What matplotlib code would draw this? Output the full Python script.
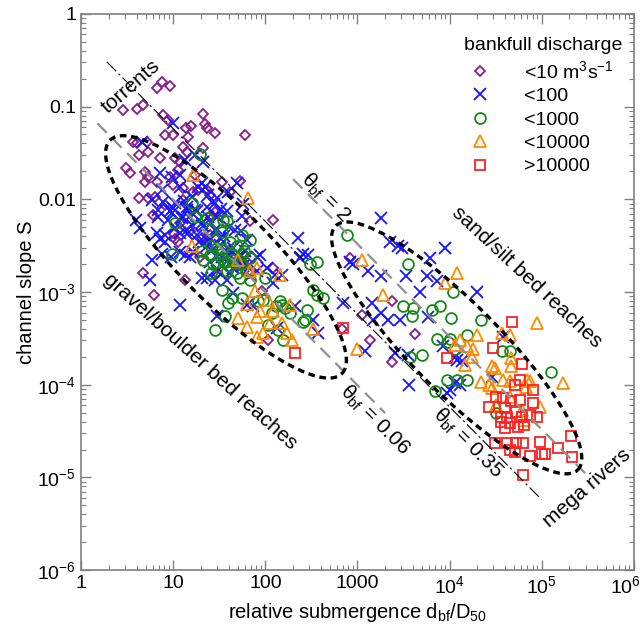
import numpy as np
import matplotlib.pyplot as plt
from matplotlib.ticker import FixedLocator, LogLocator, NullFormatter
from matplotlib.transforms import ScaledTranslation

plt.rcParams['font.family'] = ['Liberation Sans', 'DejaVu Sans']
plt.rcParams['mathtext.default'] = 'regular'

# points: (relative submergence d_bf/D50, channel slope S)
q10_pts = [(7.5, 0.185), (6.7, 0.159), (9.2, 0.166), (2.85, 0.092), (4.0, 0.094), (4.7, 0.104),
           (7.7, 0.081), (8.8, 0.072), (21, 0.083), (13.8, 0.059), (15.6, 0.062), (22, 0.065),
           (23, 0.059), (28.4, 0.052), (60, 0.0495), (8.1, 0.0495), (10, 0.0495), (14.5, 0.047),
           (3.7, 0.042), (4.0, 0.040), (5.2, 0.042), (12.8, 0.037), (14.1, 0.032), (21, 0.036),
           (4.3, 0.030), (5.3, 0.032), (7.2, 0.028), (10.5, 0.028), (11.9, 0.0255), (34, 0.0155),
           (53, 0.0158), (3.1, 0.0218), (3.4, 0.0193), (4.9, 0.0197), (5.3, 0.0176), (4.9, 0.0155),
           (6.7, 0.0155), (9.2, 0.0176), (10, 0.0143), (4.3, 0.0104), (5.3, 0.0104), (25, 0.0111),
           (121, 0.006), (68, 0.0058), (4.7, 0.0016), (6.2, 0.00093), (19.5, 0.0024), (22.5, 0.0034),
           (66, 0.0016), (92, 0.00103), (30, 0.0016), (11.2, 0.0207), (17.2, 0.0183), (18.5, 0.0126),
           (12.8, 0.0099), (8.1, 0.0087), (15.2, 0.0077), (26, 0.0068), (15.2, 0.0045), (25, 0.0041),
           (41, 0.00285), (11.9, 0.0056), (10.5, 0.0037), (6.3, 0.0107), (6.0, 0.0068), (10, 0.0043),
           (11.2, 0.0035), (20.5, 0.0038), (32, 0.0068), (41, 0.012), (53, 0.0021), (63, 0.0021),
           (13.4, 0.00135), (16.4, 0.012), (12.8, 0.0133), (23.5, 0.0126), (28.4, 0.0073), (47, 0.0025),
           (60, 0.0025), (49, 0.00196), (57, 0.00206), (121, 0.00182), (107, 0.0003), (680, 0.0004),
           (830, 0.0023), (1110, 0.00057), (2400, 0.00079), (4200, 0.00035), (1360, 0.0003), (2400, 0.000175)]

q100_pts = [(10, 0.067), (4.6, 0.042), (13.4, 0.0266), (17.2, 0.030), (7.2, 0.0193), (9.7, 0.0176),
            (11.9, 0.0183), (20.5, 0.015), (21, 0.025), (39, 0.012), (57, 0.0089), (56, 0.0066),
            (3.95, 0.006), (4.4, 0.0049), (225, 0.0038), (255, 0.0026), (290, 0.0025), (237, 0.0023),
            (5.9, 0.0022), (9.5, 0.0024), (6.7, 0.0043), (7.2, 0.0037), (5.6, 0.00135), (23, 0.0014),
            (28.4, 0.00135), (121, 0.00125), (104, 0.0018), (890, 0.0020), (830, 0.0021), (7.5, 0.0026),
            (11.9, 0.0027), (13.4, 0.0025), (8.1, 0.0041), (10.5, 0.0049), (6.9, 0.0064), (9.7, 0.0071),
            (12.4, 0.0063), (20.5, 0.0056), (17.2, 0.0077), (23.5, 0.0031), (34, 0.0019), (20.5, 0.00142),
            (11.9, 0.00073), (5.9, 0.0099), (7.5, 0.0126), (22, 0.0137), (7.7, 0.0094), (10.5, 0.0092),
            (8.8, 0.006), (12.8, 0.0065), (16, 0.0053), (8.1, 0.0035), (15.2, 0.0024), (23.5, 0.0083),
            (21, 0.0051), (28.4, 0.0047), (38, 0.0074), (47, 0.0047), (44.5, 0.0030), (34, 0.0024),
            (63, 0.0036), (30, 0.0017), (68, 0.0015), (18.5, 0.0137), (11.9, 0.0137), (30, 0.0104),
            (49, 0.015), (30, 0.0024), (87, 0.0025), (127, 0.00153), (150, 0.00153), (44.5, 0.00098),
            (63, 0.00073), (73, 0.0007), (30, 0.00055), (209, 0.0007), (134, 0.00041), (330, 0.0005),
            (370, 0.00036), (700, 0.00077), (1800, 0.0063), (2250, 0.0035), (2750, 0.0031), (3050, 0.0030),
            (1300, 0.0017), (1800, 0.0015), (3400, 0.0015), (6100, 0.0023), (8900, 0.0030), (5700, 0.0015),
            (7300, 0.00132), (4750, 0.0010), (2.0e4, 0.0010), (1450, 0.00077), (1800, 0.0006), (1470, 0.0005),
            (2130, 0.0005), (2900, 0.0005), (5800, 0.00054), (1200, 0.00023), (2550, 0.00022), (3500, 0.00021),
            (8500, 0.00026), (3.8e4, 0.00033), (3600, 0.0001), (1.14e4, 0.0002), (1.2e4, 0.000185),
            (1.35e4, 0.00018), (9500, 8.2e-5), (1.0e4, 8.8e-5), (1.14e4, 0.000105), (2.9e4, 0.00012),
            (1.29e4, 0.0001), (14, 0.0042), (19, 0.0035), (25, 0.0038), (27, 0.0029), (32, 0.0032),
            (40, 0.0025), (36, 0.0040), (26, 0.0055), (42, 0.0021), (52, 0.0023), (45, 0.0018),
            (60, 0.0028), (15, 0.0065), (19, 0.0060), (24, 0.0065), (30, 0.0064), (13, 0.0095),
            (16, 0.0105), (14, 0.0077), (10, 0.0080), (24, 0.011), (28, 0.0090), (40, 0.0050),
            (54, 0.0045), (33, 0.0078), (6.9, 0.0077), (9.2, 0.0074), (14.1, 0.0083), (18.1, 0.0074),
            (14.1, 0.0047), (18.1, 0.0041), (23.5, 0.0036), (32, 0.0038), (39, 0.0029), (53, 0.0025),
            (57, 0.0019), (41, 0.0016), (38, 0.00135), (81, 0.0024), (81, 0.0017), (25, 0.0021),
            (16.4, 0.0027), (11.9, 0.0043)]

q1000_pts = [(19.5, 0.031), (16, 0.0091), (35, 0.006), (9.7, 0.0026), (17.2, 0.0064), (34, 0.00105),
             (43, 0.00087), (39, 0.00076), (20.5, 0.0028), (10.5, 0.0056), (23, 0.0063), (38, 0.0058),
             (56, 0.0041), (49, 0.0031), (25, 0.0025), (30, 0.0021), (36.5, 0.0021), (26, 0.0016),
             (49, 0.0016), (68, 0.0023), (41, 0.0035), (68, 0.0036), (34, 0.0044), (25, 0.0047),
             (360, 0.0021), (305, 0.0020), (330, 0.00106), (420, 0.00086), (780, 0.0041), (56, 0.00086),
             (83, 0.00079), (94, 0.00082), (144, 0.00079), (150, 0.00073), (118, 0.0006), (185, 0.0006),
             (280, 0.00064), (269, 0.0005), (360, 0.00093), (36.5, 0.00055), (28.4, 0.00039), (107, 0.00044),
             (137, 0.00039), (155, 0.0003), (255, 0.00048), (99, 0.00142), (163, 0.00067), (130, 0.0007),
             (3500, 0.002), (3100, 0.00071), (4000, 0.00067), (3900, 0.00055), (6500, 0.00064),
             (7800, 0.00071), (1.05e4, 0.00053), (1.1e4, 0.001), (2.2e4, 0.0005), (1.55e4, 0.00034),
             (7300, 0.00031), (9600, 0.00029), (5000, 0.00021), (3700, 0.0002), (3.7e4, 0.00023),
             (4.5e4, 0.00023), (6900, 8.5e-5), (1.0e4, 0.00031), (1.14e4, 0.00024), (9500, 0.000113),
             (1.2e4, 0.000113), (1.55e4, 0.000113), (1.25e5, 0.000136), (3.2e4, 5e-5), (30, 0.0030),
             (44, 0.0026), (55, 0.0020), (40, 0.0019), (58, 0.0028), (33, 0.0026), (62, 0.0017), (27, 0.0020),
             (21, 0.0022), (43, 0.0022), (56, 0.0026), (38, 0.0017), (53, 0.0014), (68, 0.00135),
             (34, 0.0029), (26, 0.0031)]

q10000_pts = [(16.4, 0.0183), (65, 0.0103), (16, 0.0031), (51, 0.0022), (68, 0.0017), (81, 0.0018),
              (77, 0.00102), (107, 0.00082), (121, 0.00062), (185, 0.00073), (63, 0.00075), (51, 0.00053),
              (81, 0.00054), (63, 0.00042), (81, 0.00033), (94, 0.00036), (170, 0.00036), (195, 0.0003),
              (330, 0.0004), (112, 0.00046), (87, 0.00062), (150, 0.00046), (1000, 0.00024), (144, 0.00153),
              (1110, 0.0022), (1900, 0.00093), (8900, 0.00125), (1.2e4, 0.0016), (2.0e4, 0.00034),
              (1.29e4, 0.0003), (1.55e4, 0.00026), (1.14e4, 0.00027), (1.8e4, 0.00024), (1.46e4, 0.000165),
              (2.9e4, 0.00016), (4.7e4, 0.00016), (3.7e4, 0.00036), (4.5e4, 0.00034), (4.7e4, 0.000195),
              (3.8e4, 0.000113), (2.2e4, 0.000107), (2.7e4, 0.0001), (2.9e4, 9.2e-5), (6.9e4, 0.000113),
              (9e4, 0.00046), (1.7e5, 0.000105), (4.5e4, 7.4e-5), (6.2e4, 5.4e-5), (6.5e4, 4.2e-5),
              (9.5e4, 5.8e-5), (6.8e4, 9.5e-5), (1.75e4, 0.0002), (3.1e4, 0.00015), (4.5e4, 0.00011),
              (7.4e4, 0.00011), (3.2e4, 6.1e-5)]

qbig_pts = [(4.8e4, 0.00047), (3.0e4, 0.00025), (6.1e4, 0.000167), (5.8e4, 0.000113), (8e4, 8.8e-5),
            (3.8e4, 7.2e-5), (4.7e4, 6.6e-5), (5.8e4, 6.9e-5), (2.7e4, 5.8e-5), (4e4, 5.6e-5),
            (5.3e4, 5.1e-5), (7.4e4, 4.7e-5), (3.6e4, 4.5e-5), (4.2e4, 4.5e-5), (6.1e4, 4.5e-5),
            (9e4, 4.5e-5), (3.6e4, 4.0e-5), (4.5e4, 3.9e-5), (4e4, 3.4e-5), (5.5e4, 3.5e-5),
            (6.5e4, 3.7e-5), (3.1e4, 2.35e-5), (4.2e4, 2.35e-5), (5.3e4, 2.35e-5), (6.3e4, 2.35e-5),
            (9.5e4, 2.4e-5), (5.1e4, 1.9e-5), (7.4e4, 1.7e-5), (1.0e5, 1.8e-5), (1.08e5, 1.8e-5),
            (1.5e5, 2.1e-5), (2.1e5, 2.8e-5), (2.15e5, 1.65e-5), (6.3e4, 1.06e-5), (9500, 0.000195),
            (3.2e4, 7.4e-5), (8e4, 6.3e-5), (4.5e4, 2e-5), (700, 0.00041), (209, 0.00022), (5.1e4, 0.0001)]

series = [
    (q10_pts, '<10 m$^3$s$^{-1}$', 'D', 5.4, '#8b1a8b'),
    (q100_pts, '<100', 'x', 8.2, '#1414ff'),
    (q1000_pts, '<1000', 'o', 7.8, '#138a13'),
    (q10000_pts, '<10000', '^', 8.4, '#ff8a00'),
    (qbig_pts, '>10000', 's', 7.6, '#ff2020'),
]

# Shields number lines: S = theta * 1.65 / (d/D50)
R = 1.65
theta_lines = [(0.06, 1.5, 2000), (2.0, 200, 3e5)]
theta_mid = (0.35, 1.9, 1e5)


def ellipse(cx, cy, a, b, ang_deg):
    t = np.linspace(0, 2 * np.pi, 300)
    ang = np.radians(ang_deg)
    lx = cx + a * np.cos(t) * np.cos(ang) - b * np.sin(t) * np.sin(ang)
    ly = cy + a * np.cos(t) * np.sin(ang) + b * np.sin(t) * np.cos(ang)
    return 10 ** lx, 10 ** ly


fig = plt.figure(figsize=(6.44, 6.30), dpi=100)
ax = fig.add_axes([0.126, 0.095, 0.858, 0.883])

for pts, lab, mk, ms, col in series:
    x, y = np.array(pts).T
    ax.plot(x, y, ls='none', marker=mk, ms=ms, mfc='none', mec=col, mew=1.3, label=lab)

for th, x0, x1 in theta_lines:
    xx = np.array([x0, x1])
    ax.plot(xx, th * R / xx, color='#909090', lw=1.6, dashes=(6, 3.5))

th, x0, x1 = theta_mid
xx = np.array([x0, x1])
ax.plot(xx, th * R / xx, color='black', lw=0.8, dashes=(12, 3, 2, 3))

ex, ey = ellipse(1.573, -2.621, 1.78, 0.5, -45)
ax.plot(ex, ey, color='black', lw=2.4, dashes=(2, 1.4))
ex, ey = ellipse(4.078, -3.603, 1.86, 0.48, -45)
ax.plot(ex, ey, color='black', lw=2.4, dashes=(2, 1.4))

ax.set_xscale('log')
ax.set_yscale('log')
ax.set_xlim(1, 1e6)
ax.set_ylim(1e-6, 1)

xt = [1, 10, 100, 1000, 1e4, 1e5, 1e6]
xt_labels = ['1', '10', '100', '1000', '10$^4$', '10$^5$', '10$^6$']
yt = [1e-6, 1e-5, 1e-4, 1e-3, 0.01, 0.1, 1]
yt_labels = ['10$^{-6}$', '10$^{-5}$', '10$^{-4}$', '10$^{-3}$', '0.01', '0.1', '1']
ax.xaxis.set_major_locator(FixedLocator(xt))
ax.set_xticklabels(xt_labels)
ax.yaxis.set_major_locator(FixedLocator(yt))
ax.set_yticklabels(yt_labels)
ax.xaxis.set_minor_locator(LogLocator(base=10, subs=np.arange(2, 10), numticks=20))
ax.yaxis.set_minor_locator(LogLocator(base=10, subs=np.arange(2, 10), numticks=20))
ax.xaxis.set_minor_formatter(NullFormatter())
ax.yaxis.set_minor_formatter(NullFormatter())
ax.tick_params(which='both', direction='in', top=True, right=True, color='#808080', labelsize=14)
ax.tick_params(which='major', length=7, width=1)
ax.tick_params(which='minor', length=3.5, width=0.8)
for s in ax.spines.values():
    s.set_color('#808080')
    s.set_linewidth(1.2)

# nudge the last x label so it stays inside the figure
last = ax.get_xticklabels()[-1]
last.set_transform(last.get_transform() + ScaledTranslation(-8 / 100, 0, fig.dpi_scale_trans))

ax.set_xlabel('relative submergence d$_{bf}$/D$_{50}$', fontsize=14.5, labelpad=3)
ax.set_ylabel('channel slope S', fontsize=14.5, labelpad=1)

txt = dict(fontsize=15, ha='center', va='center', rotation_mode='anchor')
ax.text(3.5, 0.165, 'torrents', rotation=41, **txt)
ax.text(19.5, 1.8e-4, 'gravel/boulder bed reaches', rotation=-42, **txt)
ax.text(6.9e4, 1.45e-3, 'sand/silt bed reaches', rotation=-43, **txt)
ax.text(3.1e5, 7.7e-6, 'mega rivers', rotation=41, **txt)
ax.text(454, 0.0104, r'$\theta_{bf}$ = 2', rotation=-45, **txt)
ax.text(1545, 4.2e-5, r'$\theta_{bf}$ = 0.06', rotation=-45, **txt)
ax.text(1.57e4, 2.35e-5, r'$\theta_{bf}$ = 0.35', rotation=-45, **txt)

ax.legend(loc='upper right', bbox_to_anchor=(1.005, 0.983), frameon=False, fontsize=14,
          title='bankfull discharge', title_fontsize=14, alignment='left',
          handlelength=1.55, handletextpad=1.5, labelspacing=0.3, borderpad=0.2)

fig.savefig('out.png', dpi=100)
